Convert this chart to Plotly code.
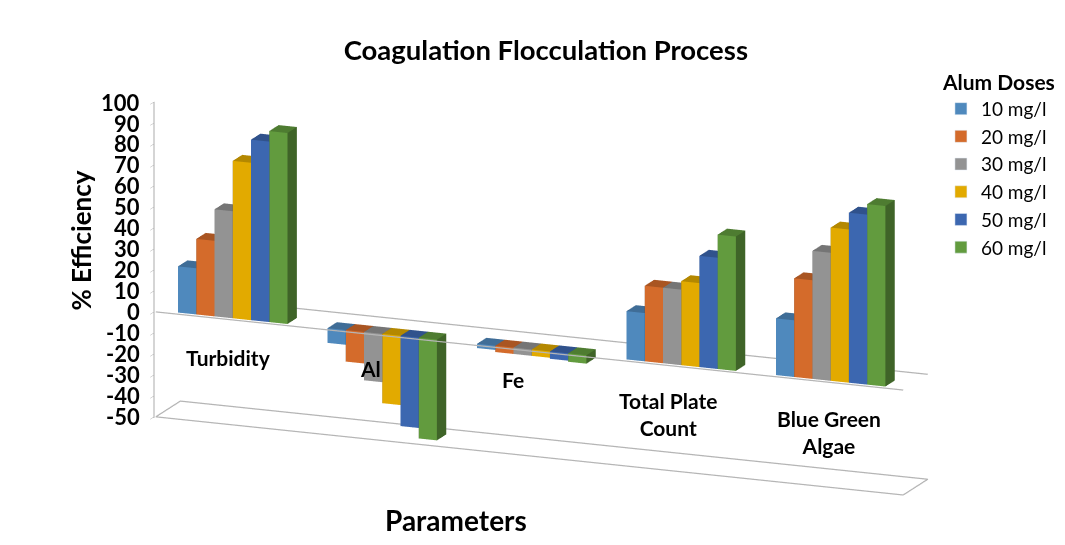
import math
import plotly.graph_objects as go

categories = ["Turbidity", "Al", "Fe", "Total Plate<br>Count", "Blue Green<br>Algae"]
series_names = ["10 mg/l", "20 mg/l", "30 mg/l", "40 mg/l", "50 mg/l", "60 mg/l"]
dose_10 = [22, -7, -2, 23, 27]
dose_20 = [36, -15, -3, 36, 47]
dose_30 = [51, -23, -3, 36, 61]
dose_40 = [75, -33, -3, 40, 73]
dose_50 = [86, -43, -3.5, 53, 81]
dose_60 = [91, -48, -4, 64, 86]
series_values = [dose_10, dose_20, dose_30, dose_40, dose_50, dose_60]
tick_values = list(range(-50, 101, 10))
colors = ["#4F89BD", "#D46B2B", "#939393", "#E2AA00", "#3C67B0", "#629B3E"]

BAR_W = 0.122
BAR_D = 0.42
FONT = "Lato"


def shade(hex_color, f):
    r, g, b = (int(hex_color[i:i + 2], 16) for i in (1, 3, 5))
    return "#%02x%02x%02x" % (int(r * f), int(g * f), int(b * f))


fig = go.Figure()
for s, (name, vals, col) in enumerate(zip(series_names, series_values, colors)):
    xs, ys, zs, ii, jj, kk, fc = [], [], [], [], [], [], []
    front, side, top = col, shade(col, 0.65), shade(col, 0.8)
    for c, v in enumerate(vals):
        x0 = c + (s - 3) * BAR_W
        x1 = x0 + BAR_W
        b = len(xs)
        for z in (0, v):
            for x, y in ((x0, 0), (x1, 0), (x1, BAR_D), (x0, BAR_D)):
                xs.append(x); ys.append(y); zs.append(z)
        quads = [((0, 1, 5), front), ((0, 5, 4), front),
                 ((1, 2, 6), side), ((1, 6, 5), side),
                 ((3, 2, 6), side), ((3, 6, 7), side),
                 ((0, 3, 7), side), ((0, 7, 4), side),
                 ((4, 5, 6), top), ((4, 6, 7), top),
                 ((0, 1, 2), top), ((0, 2, 3), top)]
        for (p, q, r), fcol in quads:
            ii.append(b + p); jj.append(b + q); kk.append(b + r); fc.append(fcol)
    fig.add_trace(go.Mesh3d(x=xs, y=ys, z=zs, i=ii, j=jj, k=kk, facecolor=fc,
                            flatshading=True, name=name, showlegend=False, legendgroup=name,
                            hoverinfo="skip",
                            lighting=dict(ambient=1, diffuse=0, specular=0, fresnel=0, roughness=1)))
    fig.add_trace(go.Bar(x=[None], y=[None], name=name, legendgroup=name, marker_color=col, showlegend=True))

X0, X1, Y0, Y1, Z0, ZM = -0.5, 4.5, -0.1, 1, -50, 0
line_sets = [
    ([X0, X1, X1, X0, X0], [Y0, Y0, Y1, Y1, Y0], [Z0] * 5),
    ([X0, X1], [Y0, Y0], [ZM, ZM]),
    ([X0, X1], [Y1, Y1], [ZM, ZM]),
]
for lx, ly, lz in line_sets:
    fig.add_trace(go.Scatter3d(x=lx, y=ly, z=lz, mode="lines", showlegend=False, hoverinfo="skip",
                               line=dict(color="#B5B5B5", width=2.5)))

hidden = dict(visible=False, showgrid=False, zeroline=False, showspikes=False, showbackground=False)
TH = math.radians(22)
PH = math.radians(15)
R = 3.0
CX, CY, CZ = -0.005, 0, 0.04
tick_ann = [dict(x=X0, y=Y0, z=t, text="<b>%d</b>" % t, showarrow=False, xanchor="right", xshift=-14,
                 font=dict(size=22, family=FONT, color="black")) for t in tick_values]
label_dx = [-2, -10, -16, -11, 1]
label_dy = [4, 9, 13, -5, -8]
cat_ann = [dict(x=c, y=Y0, z=-20, text="<b>%s</b>" % t, showarrow=False, xshift=label_dx[c], yshift=label_dy[c],
                font=dict(size=21, family=FONT, color="black"))
           for c, t in enumerate(categories)]
fig.update_layout(
    width=1065, height=545, paper_bgcolor="white", plot_bgcolor="white",
    margin=dict(l=0, r=0, t=0, b=0),
    font=dict(family=FONT, color="black"),
    title=dict(text="<b>Coagulation Flocculation Process</b>", font=dict(size=27.5, family=FONT),
               x=0.505, xanchor="center", y=0.9227, yanchor="middle"),
    showlegend=True,
    xaxis=dict(visible=False), yaxis=dict(visible=False),
    legend=dict(x=0.876, xanchor="left", y=0.9, yanchor="top", font=dict(size=19, family=FONT),
                tracegroupgap=0,
                title=dict(text="<b>Alum Doses</b>", font=dict(size=21, family=FONT)),
                bgcolor="rgba(0,0,0,0)"),
    scene=dict(
        domain=dict(x=[0, 1], y=[0, 1]),
        aspectmode="manual", aspectratio=dict(x=2.97, y=0.245, z=1.2),
        xaxis=dict(hidden, range=[X0 - 0.01, X1 + 0.01]),
        yaxis=dict(hidden, range=[Y0 - 0.01, Y1 + 0.01]),
        zaxis=dict(range=[-50.5, 100], dtick=10, tick0=0, showgrid=False, zeroline=False, showspikes=False,
                   showbackground=False, showline=True, linecolor="#ABABAB", linewidth=2,
                   ticks="outside", tickcolor="#ABABAB", ticklen=8, showticklabels=False,
                   title=dict(text="")),
        camera=dict(projection=dict(type="orthographic"),
                    center=dict(x=CX, y=CY, z=CZ),
                    up=dict(x=0, y=0, z=1),
                    eye=dict(x=CX + R * math.sin(TH) * math.cos(PH), y=CY - R * math.cos(TH) * math.cos(PH),
                             z=CZ + R * math.sin(PH))),
        annotations=tick_ann + cat_ann,
    ),
    annotations=[
        dict(xref="paper", yref="paper", x=0.421, y=0.025, text="<b>Parameters</b>", showarrow=False,
             font=dict(size=28, family=FONT)),
        dict(xref="paper", yref="paper", x=0.052, y=0.574, text="<b>% Efficiency</b>", textangle=-90,
             showarrow=False, font=dict(size=26, family=FONT)),
    ],
)
fig.write_html("out.html")
